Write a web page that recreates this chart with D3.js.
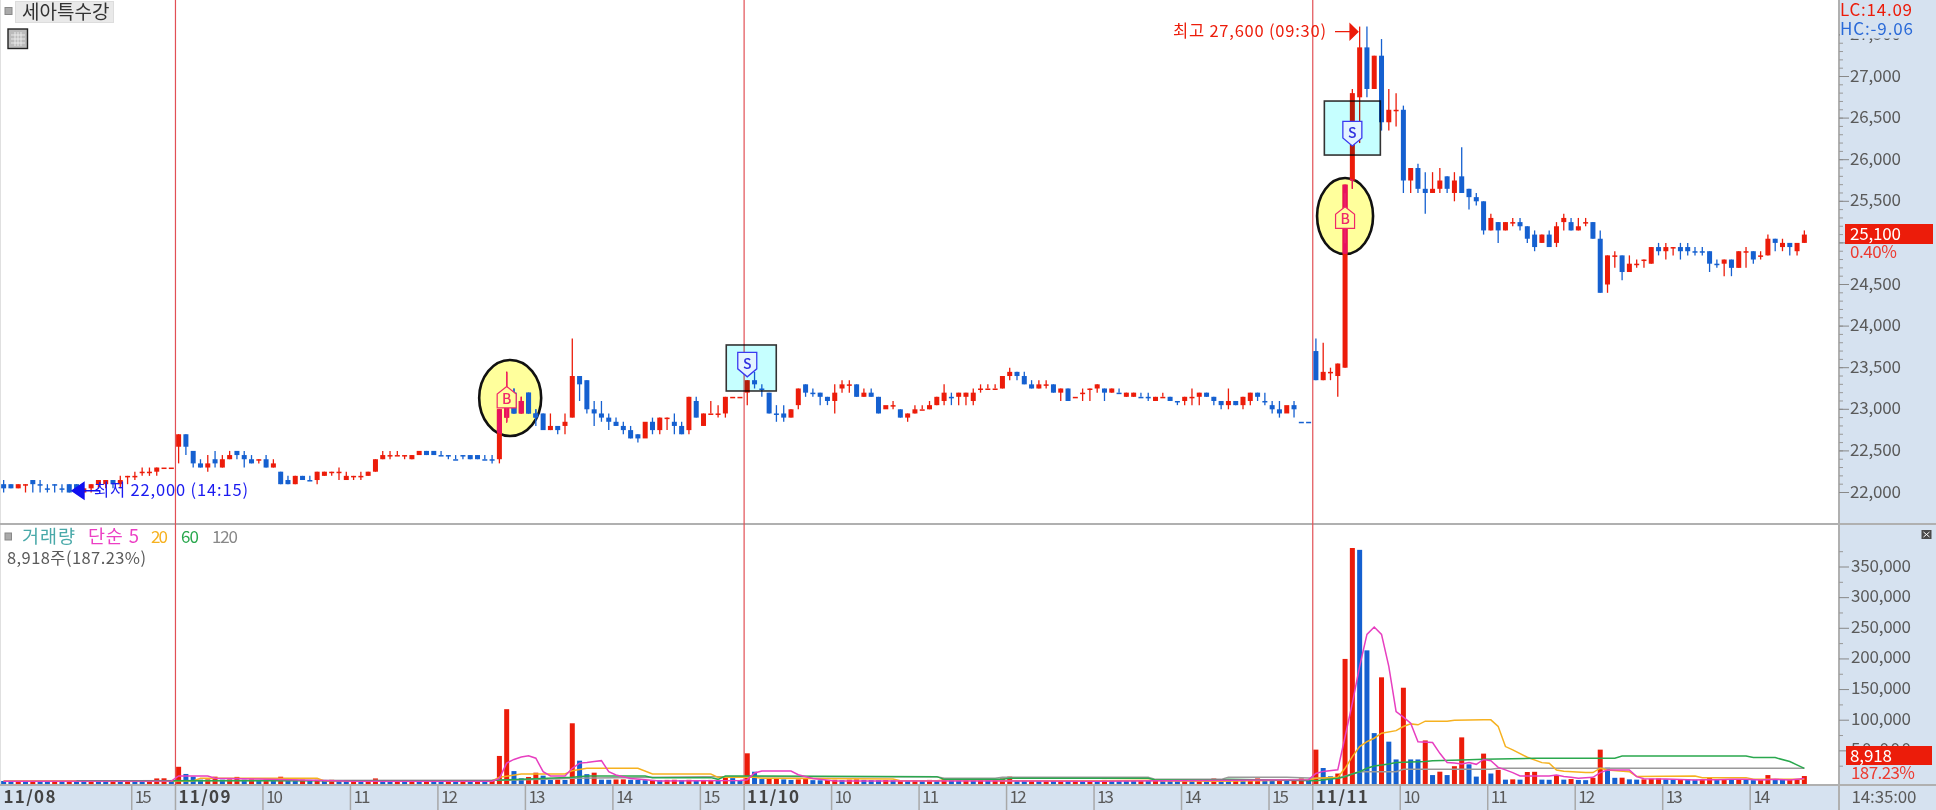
<!DOCTYPE html>
<html>
<head>
<meta charset="utf-8">
<script src="https://d3js.org/d3.v7.min.js"></script>
<style>
html, body { margin: 0; padding: 0; background: #fff; overflow: hidden; }
text { font-family: "Noto Sans CJK KR", "Liberation Sans", sans-serif; font-weight: 400; }
</style>
</head>
<body>
<div id="chart"></div>
<script>
// 5 minute bars, [open, high, low, close] and "b" when a flat bar is drawn blue
const bars_1108 = [
  [22100,22150,22000,22050],[22100,22100,22050,22050],[22050,22100,22050,22100],[22100,22100,22000,22100],
  [22150,22150,22000,22100],[22100,22150,22000,22100,"b"],[22050,22100,22000,22050,"b"],[22100,22100,22000,22100,"b"],
  [22050,22100,22000,22050,"b"],[22100,22100,22000,22000],[22100,22100,22000,22000],[22000,22050,22000,22050],
  [22050,22100,22000,22100],[22100,22150,22050,22150],[22100,22150,22050,22150],[22150,22150,22050,22100],
  [22100,22200,22050,22150],[22200,22200,22100,22200],[22200,22250,22150,22200],[22250,22300,22200,22250],
  [22250,22300,22200,22250],[22250,22300,22200,22300],[22300,22300,22300,22300],[22300,22300,22300,22300]
];
const bars_1109 = [
  [22550,22700,22350,22700],[22700,22700,22450,22550],[22500,22500,22300,22350],[22350,22400,22300,22300],
  [22300,22450,22250,22350],[22400,22500,22300,22350],[22300,22450,22300,22400],[22400,22500,22400,22450],
  [22500,22500,22400,22450],[22450,22500,22300,22400],[22400,22450,22350,22350],[22400,22400,22350,22400],
  [22400,22450,22300,22300],[22300,22400,22300,22350],[22250,22250,22100,22100],[22150,22200,22100,22100],
  [22100,22200,22100,22200],[22200,22200,22150,22150],[22150,22200,22150,22150,"b"],[22150,22250,22100,22250],
  [22200,22250,22200,22250],[22250,22250,22200,22250],[22250,22300,22150,22250],[22150,22250,22150,22200],
  [22200,22200,22150,22200],[22200,22250,22150,22200],[22200,22250,22200,22250],[22250,22400,22250,22400],
  [22400,22500,22400,22450],[22450,22500,22400,22450],[22450,22500,22450,22450],[22450,22450,22400,22450],
  [22400,22450,22400,22450],[22450,22500,22450,22500],[22500,22500,22450,22450],[22500,22500,22450,22450],
  [22450,22500,22450,22450,"b"],[22450,22450,22400,22450,"b"],[22400,22450,22400,22400,"b"],[22450,22450,22400,22450,"b"],
  [22450,22450,22400,22400],[22450,22450,22400,22400],[22400,22450,22400,22400,"b"],[22400,22450,22350,22400,"b"],
  [22400,23000,22350,23000],[22900,23450,22850,23100],[23200,23250,22950,22950],[22950,23150,22950,23100],
  [23200,23200,22950,22950],[22950,23000,22800,22900],[22950,22950,22750,22750],[22750,22950,22750,22800],
  [22800,22800,22700,22750],[22800,22950,22700,22850],[22900,23850,22900,23400],[23400,23400,23100,23300],
  [23350,23350,22950,23000],[23000,23100,22800,22950],[22950,23100,22850,22900],[22900,22950,22750,22850],
  [22850,22900,22800,22800],[22800,22850,22700,22750],[22750,22800,22650,22650],[22700,22700,22600,22650],
  [22650,22650,22650,22850],[22850,22900,22700,22750],[22750,22900,22700,22900],[22900,22900,22750,22900],
  [22850,22950,22700,22800],[22800,22850,22700,22700],[22750,23150,22700,23150],[23100,23150,22900,22900],
  [22800,22950,22800,22950],[22950,23100,22950,22950],[22950,23050,22900,22950],[22950,23150,22900,23150],
  [23150,23150,23150,23150],[23150,23150,23150,23150]
];
const bars_1110 = [
  [23200,23350,23050,23350],[23350,23450,23250,23300],[23250,23300,23150,23250,"b"],[23200,23200,22950,22950],
  [22950,23050,22850,22950,"b"],[22950,23050,22850,22900],[22900,23000,22900,23000],[23050,23250,23000,23250],
  [23300,23300,23150,23200],[23200,23250,23150,23200,"b"],[23200,23200,23050,23150],[23150,23150,23050,23100],
  [23100,23300,22950,23200],[23250,23350,23200,23300],[23300,23350,23200,23300],[23300,23300,23150,23150],
  [23150,23250,23150,23200],[23200,23250,23150,23150],[23150,23150,22950,22950],[23000,23000,23000,23050],
  [23050,23100,23000,23050],[23000,23000,22900,22900],[22900,22950,22850,22950],[22950,23050,22950,23000],
  [23000,23050,23000,23000],[23000,23100,23000,23050],[23050,23150,23050,23150],[23100,23300,23050,23200],
  [23150,23200,23050,23150,"b"],[23150,23200,23050,23200],[23150,23200,23050,23200],[23100,23250,23050,23200],
  [23250,23300,23200,23250],[23250,23300,23250,23250],[23250,23300,23250,23250],[23250,23400,23250,23400],
  [23400,23500,23350,23450],[23450,23450,23350,23400],[23400,23450,23300,23300],[23300,23350,23250,23250],
  [23250,23350,23250,23300],[23300,23350,23250,23300],[23300,23300,23200,23200],[23200,23250,23100,23250],
  [23250,23250,23100,23100],[23150,23150,23150,23150],[23200,23250,23100,23200],[23250,23250,23100,23250],
  [23250,23300,23200,23300],[23250,23250,23100,23200],[23200,23250,23200,23250],[23200,23250,23200,23200,"b"],
  [23150,23200,23150,23200],[23150,23200,23150,23200],[23150,23200,23150,23150,"b"],[23150,23200,23100,23150,"b"],
  [23100,23150,23100,23150],[23150,23200,23150,23150],[23150,23150,23100,23100],[23100,23100,23050,23100,"b"],
  [23100,23150,23050,23150],[23150,23250,23050,23150],[23150,23200,23050,23200],[23200,23200,23150,23150],
  [23150,23150,23050,23100],[23100,23100,23000,23050],[23050,23250,23000,23100],[23100,23100,23050,23050],
  [23050,23150,23000,23150],[23100,23200,23050,23200],[23200,23200,23100,23150],[23100,23200,23050,23100,"b"],
  [23050,23100,22950,23000],[23000,23100,22900,22950],[22950,22950,22950,23050],[23050,23100,22900,23000],
  [22850,22850,22850,22850,"b"],[22850,22850,22850,22850,"b"]
];
const bars_1111 = [
  [23700,23850,23350,23350],[23350,23800,23350,23450],[23450,23500,23350,23450],[23400,23550,23150,23550],
  [23500,25700,23500,25700],[25750,26850,25650,26800],[26750,27600,26200,27350],[27350,27600,26750,26850],
  [26850,27250,26850,27250],[27250,27450,26350,26450],[26450,26850,26350,26600],[26600,26800,26400,26600],
  [26600,26650,25600,25750],[25750,25900,25600,25900],[25900,25950,25600,25650],[25650,25850,25350,25600],
  [25600,25850,25600,25650],[25650,25900,25600,25750],[25800,25800,25600,25650],[25600,25850,25500,25750],
  [25800,26150,25600,25600],[25650,25650,25400,25550],[25550,25600,25450,25500],[25500,25500,25100,25150],
  [25150,25350,25150,25300],[25250,25250,25000,25150],[25150,25250,25150,25250],[25250,25300,25200,25250],
  [25250,25300,25150,25200],[25200,25200,25000,25050],[25100,25150,24900,24950],[25000,25100,25000,25100],
  [25100,25150,24950,24950],[25000,25250,24950,25200],[25250,25350,25150,25300],[25250,25300,25150,25150],
  [25150,25300,25150,25200],[25250,25300,25200,25250],[25250,25250,25050,25050],[25050,25150,24400,24400],
  [24500,24850,24400,24850],[24850,24900,24700,24850],[24850,24850,24550,24650],[24650,24850,24650,24750],
  [24750,24800,24700,24750],[24800,24800,24700,24800],[24750,24950,24750,24950],[24950,25000,24850,24900],
  [24900,25000,24800,24950],[24950,24950,24850,24950],[24950,25000,24800,24900],[24950,25000,24850,24900],
  [24900,24950,24850,24900,"b"],[24900,24950,24850,24900,"b"],[24900,24900,24650,24750],[24750,24800,24700,24750,"b"],
  [24750,24800,24600,24800],[24800,24800,24600,24700],[24700,24900,24700,24900],[24900,24950,24700,24900],
  [24900,24900,24750,24800],[24850,24900,24800,24850],[24850,25100,24850,25050],[25050,25050,24900,25000],
  [24950,25050,24900,25000],[25000,25000,24850,24950],[24900,25000,24850,25000],[25000,25150,25000,25100]
];

const vol_1108 = [800,600,700,500,600,500,400,500,400,900,700,600,800,600,500,700,500,900,800,700,1200,5000,5200,1400];
const vol_1109 = [
  24000,12300,7900,3000,3500,7900,3000,3500,7500,3000,3500,2500,3000,2500,7800,3000,2800,3000,2500,2800,
  2500,2800,2400,2000,2200,1800,2000,5000,2200,1900,2100,1700,1800,1500,1700,1400,1300,1500,1200,1400,1100,1300,1000,1200,
  41700,118000,17000,5200,7400,14400,9500,2500,3000,2500,95000,34000,12000,14400,3000,2800,3300,3500,2800,2500,
  2200,2400,2000,2600,2800,2200,2700,2300,2500,2600,2200,7000,5500,1200
];
const vol_1110 = [
  46000,16000,4000,4500,5000,3500,2500,3500,4000,2200,2000,2400,2800,2300,3000,3500,2600,2200,2000,2400,
  1800,2200,1900,2300,2000,2600,2200,5000,2300,2000,2500,2200,2700,2300,2500,5000,8000,2000,1800,2200,
  1900,2400,2000,2300,1800,2200,2000,2400,2100,2500,2200,1900,1600,1400,1700,1500,1900,1600,1400,1200,
  1500,1300,1700,1400,5000,1800,1500,1700,1400,1900,5000,1700,1400,1600,1300,1500,5000,1200
];
const vol_1111 = [
  52000,22000,8500,13000,200000,381000,378000,214000,79000,170000,65000,36000,153000,36000,36000,67000,10500,16000,10500,25000,
  72000,28000,8000,45500,13000,19000,3000,3500,3000,15500,15800,3000,2800,9500,3000,4000,2500,2200,6000,52000,
  22500,6000,6200,3500,3000,3500,4500,5000,3500,3400,3600,3200,2800,3000,6500,2600,3300,3000,3200,2800,
  2200,3000,10500,3500,3000,3300,3500,8918
];

// moving averages of volume, [bar number, value] at each bend
const ma5 = [
  [0,500],[23,800],[24,9000],[28,9000],[29,5200],[35,4000],[48,500],[67,500],[68,5000],[69,30000],[70,36000],[71,40000],
  [72,42000],[73,38000],[74,16000],[75,9000],[77,9000],[78,21500],[79,30000],[80,31000],[81,32500],[82,34000],[83,16000],
  [84,10600],[86,5000],[90,800],[101,1500],[102,3000],[103,14000],[104,17000],[108,17000],[109,11000],[111,5000],[114,800],
  [130,800],[150,500],[179,3000],[180,13000],[181,16500],[183,19000],[184,73000],[185,128000],[186,188000],[187,240000],
  [188,252000],[189,240000],[190,188000],[191,114000],[192,105000],[193,95000],[194,65000],[196,63500],[197,46000],[198,31000],
  [199,30000],[200,28600],[201,31000],[202,28000],[203,36000],[204,34000],[205,23000],[206,19000],[207,14500],[208,9000],
  [212,9000],[213,10600],[214,8000],[215,6800],[216,5200],[218,6800],[219,14500],[220,18800],[223,18800],[224,7900],[225,4600],
  [228,4000],[232,2500],[233,3000],[235,3000],[237,3500],[239,3500],[241,2500],[243,3500],[245,2500],[247,4763]
];
const ma20 = [
  [0,1000],[26,1000],[27,5200],[43,5200],[44,1000],[67,1000],[68,6800],[71,12300],[77,12300],[78,17700],[80,21500],[87,21500],
  [89,12300],[97,12300],[98,6800],[103,6800],[104,5200],[122,4000],[123,1400],[128,1400],[129,2500],[136,2500],[137,1000],
  [150,1400],[158,1900],[159,1000],[167,300],[179,2500],[180,5200],[183,6800],[184,21500],[185,40600],[186,57000],[187,65000],
  [188,70600],[189,78800],[191,83000],[192,89700],[193,94000],[194,92500],[195,98500],[198,98500],[199,100000],[203,100600],
  [204,100600],[205,90000],[206,57000],[207,51500],[209,39500],[211,30800],[212,29700],[213,18800],[214,16600],[217,14500],
  [218,14500],[219,21700],[220,18800],[223,16000],[224,8000],[232,9000],[233,6300],[239,6300],[240,3500],[247,3500]
];
const ma60 = [
  [10,1200],[67,1500],[68,2500],[72,4000],[78,6800],[80,9000],[88,9000],[89,6300],[97,6300],[98,3500],[99,9000],[128,7900],
  [129,3500],[137,3500],[138,5200],[157,5200],[158,2500],[167,2500],[168,3500],[180,1400],[183,5200],[184,7900],[185,12300],
  [186,16000],[187,21500],[188,25400],[190,28600],[191,31000],[195,32500],[196,34000],[200,35200],[203,36300],[210,38000],
  [221,38000],[222,41700],[239,41700],[240,39000],[243,39000],[245,32500],[247,21500]
];
const ma120 = [
  [0,1000],[68,1900],[74,3500],[78,5200],[84,6300],[96,7900],[128,7900],[129,5200],[136,5200],[137,6800],[157,6800],[158,3500],
  [167,3500],[168,6800],[176,7000],[180,5500],[183,5200],[186,16000],[191,16000],[192,19900],[204,19900],[205,21500],[247,21500]
];

const price_ticks = [27500,27000,26500,26000,25500,25000,24500,24000,23500,23000,22500,22000];
const vol_ticks = [50000,100000,150000,200000,250000,300000,350000];
const time_ticks = [[18,"15"],[24,"11/09"],[36,"10"],[48,"11"],[60,"12"],[72,"13"],[84,"14"],[96,"15"],
  [102,"11/10"],[114,"10"],[126,"11"],[138,"12"],[150,"13"],[162,"14"],[174,"15"],
  [180,"11/11"],[192,"10"],[204,"11"],[216,"12"],[228,"13"],[240,"14"]];
const day_starts = [24,102,180];

const bars = bars_1108.concat(bars_1109, bars_1110, bars_1111);
const volumes = vol_1108.concat(vol_1109, vol_1110, vol_1111);

const red = "#ec1c0a";
const blue = "#1560d0";
const axis_bg = "#d6e2f0";
const line_grey = "#b0b0b0";
const text_grey = "#5a5a5a";

let svg = d3.select("#chart").append("svg").attr("width", 1936).attr("height", 810).style("display", "block");

let x = d3.scaleBand().domain(d3.range(248)).range([0, 1808]);
let y_price = d3.scaleLinear().domain([22000, 27000]).range([492.5, 76.5]);
let y_vol = d3.scaleLinear().domain([0, 350000]).range([781.5, 567]);
let xc = (i) => x(i) + x.bandwidth() / 2;
let body_w = 5;

let is_up = (d) => d[3] > d[0] || (d[3] === d[0] && d[4] !== "b");

svg.append("rect").attr("width", 1936).attr("height", 810).attr("fill", "#fff");

// axis panels
svg.append("rect").attr("x", 1839).attr("width", 97).attr("height", 810).attr("fill", axis_bg);
svg.append("rect").attr("y", 785).attr("width", 1936).attr("height", 25).attr("fill", axis_bg);
svg.append("line").attr("x1", 0.5).attr("x2", 0.5).attr("y1", 0).attr("y2", 785).attr("stroke", "#e0e0e0");
svg.append("line").attr("x1", 0).attr("x2", 1936).attr("y1", 524).attr("y2", 524).attr("stroke", line_grey).attr("stroke-width", 2);
svg.append("line").attr("x1", 0).attr("x2", 1936).attr("y1", 785).attr("y2", 785).attr("stroke", line_grey).attr("stroke-width", 2);
svg.append("line").attr("x1", 1839).attr("x2", 1839).attr("y1", 0).attr("y2", 810).attr("stroke", line_grey).attr("stroke-width", 2);

// day separators
svg.selectAll("line.day").data(day_starts).enter().append("line").attr("class", "day")
  .attr("x1", (d) => x(d) + 0.5).attr("x2", (d) => x(d) + 0.5)
  .attr("y1", 0).attr("y2", 785).attr("stroke", "#e25055").attr("stroke-width", 1.2);

// hand drawn ellipses sit behind the candles
const ellipses = [[69, 23136, 31, 38], [184, 25323, 28, 38]];
svg.selectAll("ellipse.mark").data(ellipses).enter().append("ellipse").attr("class", "mark")
  .attr("cx", (d, i) => xc(d[0]) + (i === 0 ? 3.5 : 0)).attr("cy", (d) => y_price(d[1]))
  .attr("rx", (d) => d[2]).attr("ry", (d) => d[3])
  .attr("fill", "#ffff9c").attr("stroke", "#111").attr("stroke-width", 2.6);

function draw_candles(group, up_color, down_color) {
  let candle = group.selectAll("g").data(bars).enter().append("g");
  candle.append("line")
    .attr("x1", (d, i) => xc(i)).attr("x2", (d, i) => xc(i))
    .attr("y1", (d) => y_price(d[1])).attr("y2", (d) => y_price(d[2]))
    .attr("stroke-width", 1.3)
    .attr("stroke", (d) => (is_up(d) ? up_color : down_color));
  candle.append("rect")
    .attr("x", (d, i) => xc(i) - body_w / 2).attr("width", body_w)
    .attr("y", (d) => y_price(Math.max(d[0], d[3])))
    .attr("height", (d) => Math.max(1.5, Math.abs(y_price(d[0]) - y_price(d[3]))))
    .attr("fill", (d) => (is_up(d) ? up_color : down_color));
}
draw_candles(svg.append("g"), red, blue);

// red candles turn crimson inside the ellipses
let defs = svg.append("defs");
let clip = defs.append("clipPath").attr("id", "ellipse-clip");
clip.selectAll("ellipse").data(ellipses).enter().append("ellipse")
  .attr("cx", (d, i) => xc(d[0]) + (i === 0 ? 3.5 : 0)).attr("cy", (d) => y_price(d[1]))
  .attr("rx", (d) => d[2]).attr("ry", (d) => d[3]);
draw_candles(svg.append("g").attr("clip-path", "url(#ellipse-clip)"), "#e8125e", blue);

// cyan boxes tint whatever is under them
const boxes = [[102, 23773, 50, 46, -21], [185, 26705, 56, 54, -28]];
svg.selectAll("rect.box").data(boxes).enter().append("rect").attr("class", "box")
  .attr("x", (d) => xc(d[0]) + d[4]).attr("y", (d) => y_price(d[1]))
  .attr("width", (d) => d[2]).attr("height", (d) => d[3])
  .attr("fill", "#c6ffff").attr("stroke", "#333").attr("stroke-width", 1.6)
  .style("mix-blend-mode", "multiply");

// buy and sell signals
const buys = [[69, 23016], [184, 25175]];
const sells = [[102, 23390], [185, 26165]];
let buy = svg.selectAll("g.buy").data(buys).enter().append("g").attr("class", "buy")
  .attr("transform", (d) => `translate(${xc(d[0])},${y_price(d[1])})`);
buy.append("path").attr("d", "M0,-35V-22M0,0V15").attr("stroke", "#f0286a").attr("stroke-width", 1.2);
buy.append("path").attr("d", "M-9.5,0V-14L0,-21.5L9.5,-14V0Z").attr("fill", "#ffff9c").attr("stroke", "#f0286a").attr("stroke-width", 1.2);
buy.append("text").attr("y", -4).attr("text-anchor", "middle").attr("font-size", 14).attr("fill", "#f0286a")
  .style("font-weight", 500).text("B");
let sell = svg.selectAll("g.sell").data(sells).enter().append("g").attr("class", "sell")
  .attr("transform", (d) => `translate(${xc(d[0])},${y_price(d[1])})`);
sell.append("path").attr("d", "M-9.5,-24.5H9.5V-8L0,0L-9.5,-8Z").attr("fill", "#e4f4ff").attr("stroke", "#3a3af0").attr("stroke-width", 1.3);
sell.append("text").attr("y", -8).attr("text-anchor", "middle").attr("font-size", 14).attr("fill", "#3030e0")
  .style("font-weight", 500).text("S");

// high and low callouts
svg.append("text").attr("x", 1326).attr("y", 37).attr("text-anchor", "end").attr("font-size", 16.5).attr("fill", red)
  .attr("textLength", 153).text("최고 27,600 (09:30)");
svg.append("path").attr("d", "M1335,31.7H1350M1350,24V39.5L1358,31.7Z").attr("stroke", red).attr("stroke-width", 1.2).attr("fill", red);
svg.append("path").attr("d", "M100,490.7H80M84,482.5V499L72,490.7Z").attr("stroke", "#1010f0").attr("stroke-width", 1.4).attr("fill", "#1010f0");
svg.append("text").attr("x", 94).attr("y", 496).attr("font-size", 16.5).attr("fill", "#1a1af0")
  .attr("textLength", 154).text("최저 22,000 (14:15)");

// title and toolbar
svg.append("rect").attr("x", 5).attr("y", 7.5).attr("width", 7).attr("height", 7).attr("fill", "#aaa").attr("stroke", "#888");
svg.append("rect").attr("x", 15.5).attr("y", 1.5).attr("width", 98).attr("height", 21).attr("fill", "#e9e9e9").attr("stroke", "#ddd");
svg.append("text").attr("x", 22).attr("y", 18.5).attr("font-size", 19).attr("fill", "#333").text("세아특수강");
let grid_icon = svg.append("g").attr("transform", "translate(8,29)");
grid_icon.append("rect").attr("width", 19.5).attr("height", 19.5).attr("fill", "#bbb").attr("stroke", "#222").attr("stroke-width", 1.4);
grid_icon.append("path").attr("d", "M3,6H17M3,10H17M3,14H17M7,3V17M10,3V17M13,3V17").attr("stroke", "#eee").attr("stroke-width", 0.9);

// volume bars and their averages
svg.append("g").selectAll("rect").data(volumes).enter().append("rect")
  .attr("x", (d, i) => xc(i) - body_w / 2).attr("width", body_w)
  .attr("y", (d) => y_vol(d))
  .attr("height", (d) => 784 - y_vol(d))
  .attr("fill", (d, i) => (i > 0 && d > volumes[i - 1] ? red : blue));

let ma_line = d3.line().x((d) => xc(d[0])).y((d) => y_vol(d[1]));
const ma_series = [[ma120, "#999"], [ma20, "#f6b11f"], [ma60, "#2aa84e"], [ma5, "#e73fc0"]];
svg.selectAll("path.ma").data(ma_series).enter().append("path").attr("class", "ma")
  .attr("d", (d) => ma_line(d[0])).attr("fill", "none").attr("stroke", (d) => d[1]).attr("stroke-width", 1.5);

// volume legend
svg.append("rect").attr("x", 5).attr("y", 533).attr("width", 6.5).attr("height", 7).attr("fill", "#aaa").attr("stroke", "#888");
const legend_text = [["거래량", 22, "#49a9a9", 53], ["단순 5", 88, "#ec3fc4", 51], ["20", 151, "#f6b11f", 17], ["60", 181, "#2aa84e", 18], ["120", 212, "#888", 26]];
svg.selectAll("text.legend").data(legend_text).enter().append("text").attr("class", "legend")
  .attr("x", (d) => d[1]).attr("y", 543).attr("font-size", (d) => (d[3] > 30 ? 18.5 : 17)).attr("fill", (d) => d[2])
  .attr("textLength", (d) => d[3]).text((d) => d[0]);
svg.append("text").attr("x", 7).attr("y", 564).attr("font-size", 16.5).attr("fill", text_grey).attr("textLength", 139).text("8,918주(187.23%)");

// price axis
let price_minor = d3.range(22000, 27600, 100);
svg.append("g").selectAll("line").data(price_minor).enter().append("line")
  .attr("x1", 1839).attr("x2", 1843).attr("y1", (d) => y_price(d)).attr("y2", (d) => y_price(d)).attr("stroke", "#999");
svg.append("g").selectAll("line").data(price_ticks).enter().append("line")
  .attr("x1", 1839).attr("x2", 1849).attr("y1", (d) => y_price(d)).attr("y2", (d) => y_price(d)).attr("stroke", "#888");
svg.append("g").selectAll("text").data(price_ticks.filter((d) => d !== 25000)).enter().append("text")
  .attr("x", 1850).attr("y", (d) => y_price(d) + 5).attr("font-size", 17).attr("fill", text_grey).attr("textLength", 51)
  .text((d) => d3.format(",")(d));

// LC / HC covers the top of the 27,500 label
svg.append("rect").attr("x", 1840).attr("y", 0).attr("width", 96).attr("height", 38.5).attr("fill", axis_bg);
svg.append("text").attr("x", 1840).attr("y", 16).attr("font-size", 17).attr("fill", red).attr("textLength", 72).text("LC:14.09");
svg.append("text").attr("x", 1840).attr("y", 35).attr("font-size", 17).attr("fill", "#2a6ad8").attr("textLength", 73).text("HC:-9.06");

svg.append("rect").attr("x", 1845).attr("y", 224).attr("width", 88).attr("height", 20).attr("fill", red);
svg.append("text").attr("x", 1850).attr("y", 240).attr("font-size", 17).attr("fill", "#fff").attr("textLength", 51).text("25,100");
svg.append("text").attr("x", 1850).attr("y", 258).attr("font-size", 17).attr("fill", "#ec3a30").attr("textLength", 47).text("0.40%");

// volume axis
let vol_minor = d3.range(25000, 400000, 50000);
svg.append("g").selectAll("line").data(vol_minor).enter().append("line")
  .attr("x1", 1839).attr("x2", 1843).attr("y1", (d) => y_vol(d)).attr("y2", (d) => y_vol(d)).attr("stroke", "#999");
svg.append("g").selectAll("line").data(vol_ticks).enter().append("line")
  .attr("x1", 1839).attr("x2", 1849).attr("y1", (d) => y_vol(d)).attr("y2", (d) => y_vol(d)).attr("stroke", "#888");
svg.append("g").selectAll("text").data(vol_ticks).enter().append("text")
  .attr("x", 1851).attr("y", (d) => y_vol(d) + 4.5).attr("font-size", 17).attr("fill", text_grey).attr("textLength", 60)
  .text((d) => d3.format(",")(d));
svg.append("rect").attr("x", 1846).attr("y", 746).attr("width", 86).attr("height", 19).attr("fill", red);
svg.append("text").attr("x", 1850).attr("y", 762).attr("font-size", 17).attr("fill", "#fff").attr("textLength", 42).text("8,918");
svg.append("text").attr("x", 1851).attr("y", 779).attr("font-size", 17).attr("fill", "#ec3a30").attr("textLength", 64).text("187.23%");
svg.append("rect").attr("x", 1921.5).attr("y", 530).attr("width", 10).attr("height", 9).attr("fill", "#4a4a4a");
svg.append("path").attr("d", "M1923.5,537L1929.5,532M1923.5,532L1929.5,537").attr("stroke", "#fff").attr("stroke-width", 1);

// time axis
svg.append("g").selectAll("line").data(time_ticks).enter().append("line")
  .attr("x1", (d) => x(d[0]) + 0.5).attr("x2", (d) => x(d[0]) + 0.5).attr("y1", 785).attr("y2", 810)
  .attr("stroke", "#a8a8a8").attr("stroke-width", 1.5);
let time_labels = [[0, "11/08"]].concat(time_ticks);
svg.append("g").selectAll("text").data(time_labels).enter().append("text")
  .attr("x", (d) => x(d[0]) + 3.5).attr("y", 803).attr("font-size", 17)
  .attr("fill", (d) => (d[1].includes("/") ? "#444" : text_grey))
  .style("font-weight", (d) => (d[1].includes("/") ? 700 : 400))
  .attr("textLength", (d) => (d[1].includes("/") ? 52 : 17))
  .text((d) => d[1]);
svg.append("text").attr("x", 1851.5).attr("y", 803).attr("font-size", 17).attr("fill", text_grey).attr("textLength", 65).text("14:35:00");
</script>
</body>
</html>
